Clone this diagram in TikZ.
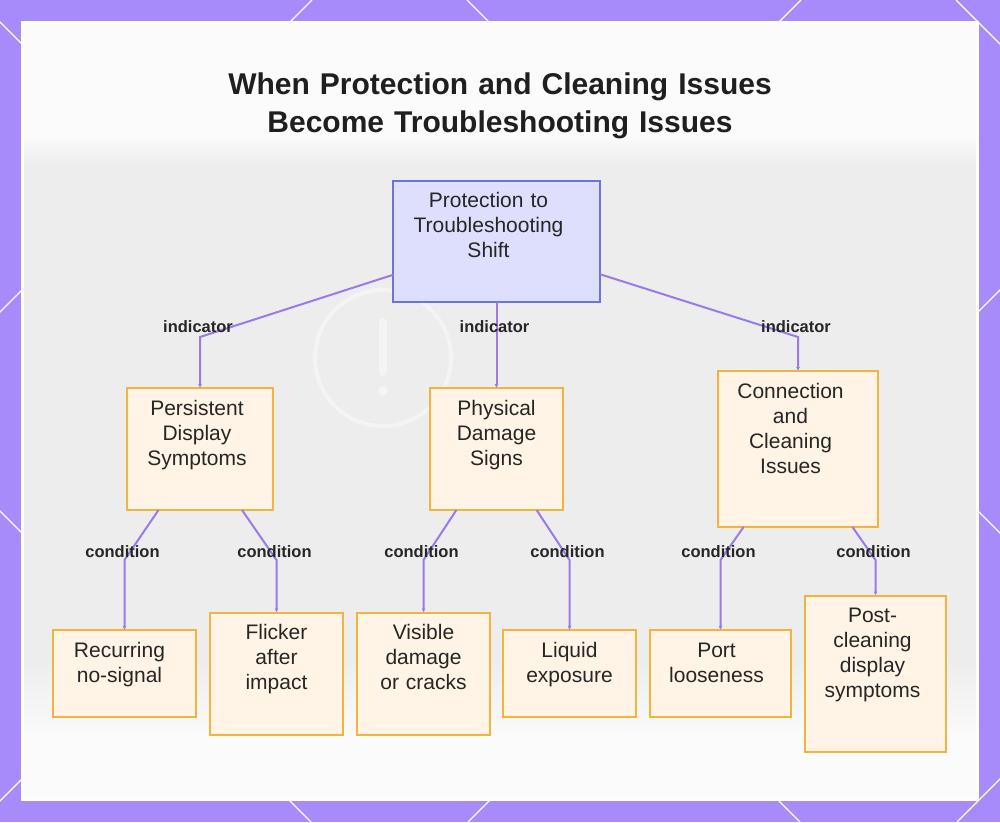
\documentclass[tikz,border=0pt]{standalone}
\usepackage{fontspec}
\setmainfont{Liberation Sans}
\usetikzlibrary{arrows.meta,positioning}
\definecolor{framepurple}{RGB}{167,139,250}
\definecolor{linkpurple}{RGB}{152,122,232}
\definecolor{rootblue}{RGB}{221,223,252}
\definecolor{rootedge}{RGB}{108,116,220}
\definecolor{leafpeach}{RGB}{255,244,230}
\definecolor{leafedge}{RGB}{242,180,62}
\definecolor{inktext}{RGB}{38,38,38}
\definecolor{panelgrey}{RGB}{237,237,237}
\definecolor{panelwhite}{RGB}{251,251,251}
\tikzset{
  box/.style={
    draw=leafedge,
    fill=leafpeach,
    line width=2pt,
    outer sep=0pt,
    align=center,
    inner sep=0pt,
    text height=27pt,
    text=inktext,
    font=\fontsize{21}{25}\selectfont
  },
  twoline/.style={box, text depth=60pt},
  threeline/.style={box, text depth=95pt},
  fourline/.style={box, text depth=129pt},
  rootbox/.style={threeline, draw=rootedge, fill=rootblue, text height=26pt},
  nudge/.style={execute at begin node={\leftskip=0pt plus 1fil\rightskip=#1 plus 1fil\parfillskip=0pt\relax}},
  tag/.style={font=\bfseries\fontsize{16.5}{18}\selectfont, text=inktext, inner sep=1pt},
  link/.style={draw=linkpurple, line width=2pt, -{Latex[length=4pt,width=4pt]}},
  heading/.style={font=\bfseries\fontsize{30}{38}\selectfont, text=black!88, align=center,
    text width=700pt, inner sep=0pt, text height=22pt, text depth=40pt},
}

\begin{document}
\begin{tikzpicture}[x=1pt,y=-1pt]
\useasboundingbox (0,0) rectangle (1000,822);

% Frame and backdrop
\fill[framepurple] (0,0) rectangle (1000,822);
\begin{scope}
  \clip (0,0) rectangle (1000,822);
  \foreach \c in {-177,312,801,1290,1779}
    \draw[white, line width=1.3pt] (\c,0) -- ++(-822,822);
  \foreach \c in {-511,-22,467,956}
    \draw[white, line width=1.3pt] (\c,0) -- ++(822,822);
\end{scope}
\fill[white] (21,21) rectangle (979,801);
\fill[panelwhite] (24,24) rectangle (976,798);
\shade[top color=panelwhite, bottom color=panelgrey] (24,135) rectangle (976,165);
\fill[panelgrey] (24,165) rectangle (976,660);
\shade[top color=panelgrey, bottom color=panelwhite] (24,660) rectangle (976,740);
\draw[white!40!panelgrey, line width=4pt] (383,358) circle[radius=68pt];
\draw[white!40!panelgrey, line width=8pt, line cap=round] (383,322) -- (383,372);
\fill[white!40!panelgrey] (383,391) circle[radius=5pt];

% Title
\node[heading, anchor=north] (title) at (500,72) {When Protection and Cleaning Issues\\Become Troubleshooting Issues};

% Root
\node[rootbox, nudge=16pt, text width=207pt, anchor=north] (root) at (496.5,181) {Protection to\\Troubleshooting\\Shift};

% Indicators
\node[threeline, text width=133pt, below=86pt of root] (damage) {Physical\\Damage\\Signs};
\node[threeline, nudge=6pt, text width=146pt, left=157pt of damage] (display) {Persistent\\Display\\Symptoms};
\node[fourline, nudge=15pt, text width=160pt, right=155pt of damage] (connect) {Connection\\and\\Cleaning\\Issues};

% Conditions
\node[twoline, nudge=10pt, text width=143pt] (nosignal) at (124.5,673.5) {Recurring\\no-signal};
\node[threeline, text width=133pt, right=14pt of nosignal] (flicker) {Flicker\\after\\impact};
\node[threeline, text width=133pt, right=14pt of flicker] (cracks) {Visible\\damage\\or cracks};
\node[twoline, text width=133pt, right=13pt of cracks] (liquid) {Liquid\\exposure};
\node[twoline, nudge=8pt, text width=141pt, right=14pt of liquid] (port) {Port\\looseness};
\node[fourline, nudge=6pt, text width=141pt, right=14pt of port] (postclean) {Post-\\cleaning\\display\\symptoms};

% Bends
\coordinate (i1) at (display.center |- 0,337);
\coordinate (i2) at (damage.center |- 0,337);
\coordinate (i3) at (connect.center |- 0,337);
\coordinate (c1) at (nosignal.center |- 0,560);
\coordinate (c2) at (flicker.center |- 0,560);
\coordinate (c3) at (cracks.center |- 0,560);
\coordinate (c4) at (liquid.center |- 0,560);
\coordinate (c5) at (port.center |- 0,560);
\coordinate (c6) at (postclean.center |- 0,560);

% Links from root
\draw[link] (root) -- (i1) -- (display);
\draw[link] (root) -- (damage);
\draw[link] (root) -- (i3) -- (connect);
\node[tag] (ind1) at ([xshift=-2pt,yshift=10pt]i1) {indicator};
\node[tag] (ind2) at ([xshift=-2pt,yshift=10pt]i2) {indicator};
\node[tag] (ind3) at ([xshift=-2pt,yshift=10pt]i3) {indicator};

% Links to conditions
\draw[link] (display) -- (c1) -- (nosignal);
\draw[link] (display) -- (c2) -- (flicker);
\draw[link] (damage) -- (c3) -- (cracks);
\draw[link] (damage) -- (c4) -- (liquid);
\draw[link] (connect) -- (c5) -- (port);
\draw[link] (connect) -- (c6) -- (postclean);
\foreach \c in {1,...,6}
  \node[tag] (cond\c) at ([xshift=-2pt,yshift=8pt]c\c) {condition};

\end{tikzpicture}
\end{document}
